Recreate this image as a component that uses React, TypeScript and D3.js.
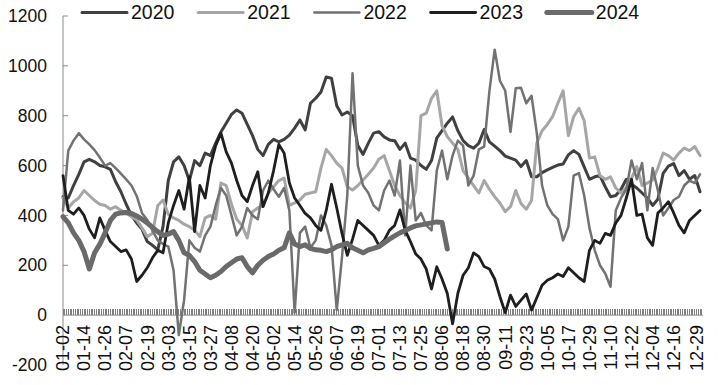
import React from "react";
import * as d3 from "d3";

// legend / series names
const years = ["2020", "2021", "2022", "2023", "2024"];

// x axis labels and their day offsets from 01-02
const tickLabels = [
  "01-02", "01-14", "01-26", "02-07", "02-19", "03-03", "03-15", "03-27",
  "04-08", "04-20", "05-02", "05-14", "05-26", "06-07", "06-19", "07-01",
  "07-13", "07-25", "08-06", "08-18", "08-30", "09-11", "09-23", "10-05",
  "10-17", "10-29", "11-10", "11-22", "12-04", "12-16", "12-29",
];
const tickDays = [
  0, 12, 24, 36, 48, 60, 72, 84, 96, 108, 120, 132, 144, 156, 168, 180,
  192, 204, 216, 228, 240, 252, 264, 276, 288, 300, 312, 324, 336, 348, 361,
];
const yTicks = [-200, 0, 200, 400, 600, 800, 1000, 1200];

// values read every 3 days starting 01-02
const step = 3;
const s2020 = [
  475, 470, 520, 565, 615, 625, 615, 600, 595, 585,
  535, 495, 445, 400, 370, 345, 295, 280, 262, 355,
  540, 615, 635, 600, 540, 620, 600, 650, 640, 690,
  735, 770, 805, 823, 810, 765, 720, 665, 640, 685,
  705, 695, 705, 722, 750, 783, 743, 850, 870, 895,
  955, 950, 840, 803, 815, 800, 680, 645, 690, 730,
  736, 715, 703, 700, 665, 690, 630, 622, 600, 585,
  620, 710, 740, 770, 795, 740, 700, 680, 670, 690,
  745, 695, 678, 660, 638, 630, 622, 596, 620, 555,
  555, 572, 583, 593, 602, 606, 643, 660, 645, 595,
  545, 555, 560, 515, 475, 480, 505, 545, 525, 510,
  490, 470, 440, 465, 569, 598, 608, 560, 580, 545,
  560, 495,
];
const s2021 = [
  470, 430, 455, 470, 500, 480, 460, 445, 440, 425,
  435, 420, 410, 395, 382, 350, 315, 328, 440, 462,
  405, 390, 380, 365, 355, 340, 315, 390, 400, 385,
  530, 520, 445, 385, 360, 310, 415, 430, 440, 490,
  515, 540, 550, 440, 450, 462, 485, 490, 495, 590,
  665, 640, 610, 590, 515, 502, 520, 542, 565, 590,
  625, 640, 580, 520, 480, 450, 430, 500, 800, 810,
  870, 900, 760, 716, 690, 665, 580, 550, 520, 490,
  540, 505, 475, 450, 415, 435, 500, 448, 425, 460,
  690, 740, 765, 796, 850, 900, 720, 796, 830, 780,
  630, 635, 560, 545, 555, 510, 490, 512, 550, 596,
  520, 530, 542, 590, 650, 640, 622, 650, 670, 660,
  676, 640,
];
const s2022 = [
  420, 660, 700, 730, 705, 685, 662, 632, 600, 610,
  590, 568, 545, 520, 478, 410, 382, 340, 300, 285,
  275, 180, -80, 60, 300, 270, 255, 320, 355, 440,
  510, 480, 400, 320, 355, 430, 400, 385, 500, 540,
  505, 475, 510, 420, 10, 330, 355, 270, 300, 400,
  360, 280, 20, 234, 480, 970, 600, 520, 490, 440,
  420, 500, 540, 480, 620, 320, 600, 380, 410, 360,
  340, 580, 660, 545, 640, 700, 680, 520, 560, 665,
  676, 900, 1065, 940, 900, 735, 910, 912, 850, 880,
  730, 520, 440, 405, 385, 300, 355, 560, 570, 480,
  350, 260, 200, 167, 114, 420, 470, 505, 620, 545,
  610, 420, 590, 500, 400, 430, 462, 475, 520, 540,
  530, 565,
];
const s2023 = [
  560, 420, 405, 430, 400, 345, 310, 390, 340, 295,
  275, 255, 262, 225, 135, 160, 190, 230, 260, 250,
  370, 440, 500, 425, 555, 335, 520, 470, 600, 680,
  730, 655, 610, 540, 480, 455, 520, 575, 435, 490,
  580, 685, 650, 530, 470, 440, 408, 390, 360, 340,
  420, 525, 430, 328, 240, 305, 380, 360, 340, 320,
  280, 300, 340, 360, 422, 340, 295, 245, 225, 185,
  105, 194, 145, 87, -35, 87, 160, 190, 250, 235,
  195, 185, 145, 74, 10, 80, 35, 60, 85, 20,
  70, 120, 140, 150, 165, 155, 190, 170, 150, 135,
  260, 300, 288, 328, 320, 370, 400, 470, 545, 400,
  405, 310, 280, 410, 430, 455, 410, 360, 330, 380,
  400, 420,
];
const s2024 = [
  395, 370, 330, 300, 255, 185, 250, 285, 330, 380,
  405, 410, 412, 408, 398, 385, 370, 352, 335, 320,
  325, 335, 300, 250, 240, 215, 180, 165, 150, 160,
  175, 195, 210, 225, 230, 195, 170, 200, 220, 235,
  245, 260, 270, 330, 285, 275, 282, 268, 262, 260,
  255, 262, 275, 282, 288, 270, 260, 250, 262, 268,
  275, 290, 305, 318, 330, 340, 350, 358, 362, 366,
  370, 374, 372, 265,
];

const seriesData = [s2020, s2021, s2022, s2023, s2024];
const colors = ["#404040", "#a6a6a6", "#727272", "#1e1e1e", "#6a6a6a"];
const widths = [3, 3, 2.5, 2.8, 5];

export default function App() {
  const width = 718;
  const height = 385;
  const font = "'Liberation Sans', Arial, sans-serif";

  const x = d3.scaleLinear().domain([0, 363]).range([63, 700]);
  const y = d3.scaleLinear().domain([-200, 1200]).range([365, 16]);

  const line = d3
    .line<number>()
    .x((d, i) => x(i * step))
    .y((d) => y(d));

  const dayTicks = d3.range(0, 365);
  const axisColor = "#8a8a8a";

  return (
    <svg
      width={width}
      height={height}
      style={{ position: "absolute", left: 0, top: 0, background: "#fff" }}
      fontFamily={font}
    >
      {/* y axis */}
      <line x1={63} x2={63} y1={y(1200)} y2={y(-200)} stroke={axisColor} strokeWidth={1} />
      {yTicks.map((t) => (
        <g key={t}>
          {t !== 0 && t !== -200 && (
            <line x1={63} x2={68} y1={y(t)} y2={y(t)} stroke={axisColor} />
          )}
          <text x={47} y={y(t)} dy="0.35em" textAnchor="end" fontSize={17.5} fill="#111">
            {t}
          </text>
        </g>
      ))}

      {/* x axis with daily tick marks */}
      <g shapeRendering="crispEdges">
        {dayTicks.map((d) => (
          <line
            key={d}
            x1={x(d)}
            x2={x(d)}
            y1={y(0) - 6}
            y2={y(0)}
            stroke="#808080"
            strokeWidth={1}
          />
        ))}
      </g>
      <line x1={63} x2={703} y1={y(0)} y2={y(0)} stroke={axisColor} strokeWidth={1} />

      {tickLabels.map((lab, i) => (
        <text
          key={lab}
          transform={`translate(${x(tickDays[i])},325) rotate(-90)`}
          dy="0.35em"
          textAnchor="end"
          fontSize={18}
          fill="#111"
        >
          {lab}
        </text>
      ))}

      {/* series */}
      {seriesData.map((s, i) => (
        <path
          key={years[i]}
          d={line(s) || ""}
          fill="none"
          stroke={colors[i]}
          strokeWidth={widths[i]}
          strokeLinejoin="round"
          strokeLinecap="round"
        />
      ))}

      {/* legend */}
      {years.map((yr, i) => {
        const lx = 82 + i * 116.2;
        return (
          <g key={yr}>
            <line
              x1={lx}
              x2={lx + 45}
              y1={12.5}
              y2={12.5}
              stroke={colors[i]}
              strokeWidth={widths[i]}
              strokeLinecap="round"
            />
            <text x={lx + 49} y={12.5} dy="0.33em" fontSize={19.5} fill="#111">
              {yr}
            </text>
          </g>
        );
      })}
    </svg>
  );
}
